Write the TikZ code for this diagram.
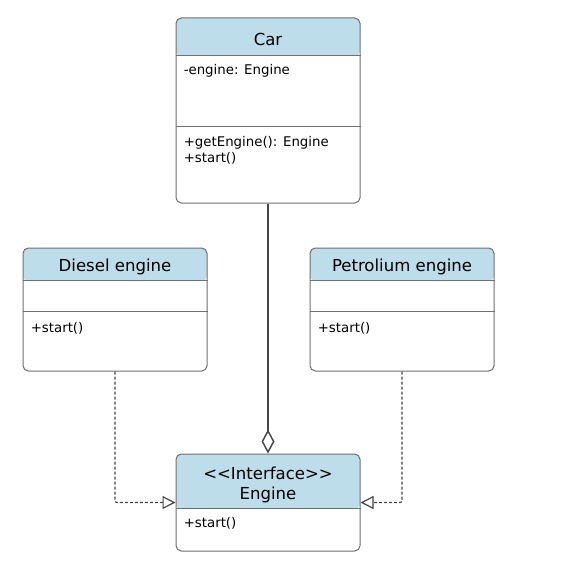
\documentclass[tikz,border=0pt]{standalone}
\usepackage{fontspec}
\setmainfont{DejaVu Sans}
\usetikzlibrary{arrows.meta}
\definecolor{headBlue}{RGB}{188,221,233}
\definecolor{boxGray}{RGB}{112,112,112}
\definecolor{lineGray}{RGB}{70,70,70}
\tikzset{
    classbox/.style={draw=boxGray, line width=0.75pt, fill=white, rounded corners=4pt, minimum width=138pt, inner sep=0pt},
    header/.style={path picture={\fill[headBlue] (path picture bounding box.north west) rectangle ([yshift=-#1]path picture bounding box.north east);}},
    title/.style={font=\fontsize{12.4}{15}\selectfont, inner sep=0pt, anchor=base},
    member/.style={font=\fontsize{10}{12}\selectfont, inner sep=0pt, anchor=base west},
    divline/.style={draw=boxGray, line width=0.75pt},
    realize/.style={draw=lineGray, line width=0.9pt, dash pattern=on 2.25pt off 1.5pt, rounded corners=1.5pt, -{Triangle[open, length=9.75pt, width=9.75pt]}},
    aggreg/.style={draw=lineGray, line width=1.1pt, {Diamond[open, length=18pt, width=9.75pt]}-}
}
\begin{document}
\begin{tikzpicture}[x=0.75pt, y=-0.75pt]
    \fill[white] (0,0) rectangle (580,570);
    \useasboundingbox (0,0) rectangle (580,570);

    %CAR
    \node[classbox, header=28.5pt, minimum height=138.75pt] (car) at (268,110.5) {};
    \draw[divline] ([yshift=-28.5pt]car.north west) -- ([yshift=-28.5pt]car.north east);
    \draw[divline] ([yshift=-82pt]car.north west) -- ([yshift=-82pt]car.north east);
    \node[title] (cartitle) at ([yshift=-21pt]car.north) {Car};
    \node[member] (carattr) at ([xshift=6pt, yshift=-42.75pt]car.north west) {-engine: Engine};
    \node[member] (carget) at ([xshift=6pt, yshift=-96.75pt]car.north west) {+getEngine(): Engine};
    \node[member] (carstart) at ([xshift=6pt, yshift=-108.75pt]car.north west) {+start()};

    %DIESEL ENGINE
    \node[classbox, header=24.75pt, minimum height=92.25pt] (diesel) at (115,309.5) {};
    \draw[divline] ([yshift=-24.75pt]diesel.north west) -- ([yshift=-24.75pt]diesel.north east);
    \draw[divline] ([yshift=-48pt]diesel.north west) -- ([yshift=-48pt]diesel.north east);
    \node[title] (dieseltitle) at ([yshift=-18pt]diesel.north) {Diesel engine};
    \node[member] (dieselstart) at ([xshift=6pt, yshift=-63.75pt]diesel.north west) {+start()};

    %PETROLIUM ENGINE
    \node[classbox, header=24.75pt, minimum height=92.25pt] (petrol) at (402,309.5) {};
    \draw[divline] ([yshift=-24.75pt]petrol.north west) -- ([yshift=-24.75pt]petrol.north east);
    \draw[divline] ([yshift=-48pt]petrol.north west) -- ([yshift=-48pt]petrol.north east);
    \node[title] (petroltitle) at ([yshift=-18pt]petrol.north) {Petrolium engine};
    \node[member] (petrolstart) at ([xshift=6pt, yshift=-63.75pt]petrol.north west) {+start()};

    %ENGINE INTERFACE
    \node[classbox, header=41.25pt, minimum height=72.75pt] (engine) at (268,502.5) {};
    \draw[divline] ([yshift=-41.25pt]engine.north west) -- ([yshift=-41.25pt]engine.north east);
    \node[title] (enginestereo) at ([yshift=-19.5pt]engine.north) {<\kern0pt<Interface>\kern0pt>};
    \node[title] (enginetitle) at ([yshift=-34.5pt]engine.north) {Engine};
    \node[member] (enginestart) at ([xshift=6pt, yshift=-55.5pt]engine.north west) {+start()};

    %CONNECTORS
    \draw[aggreg] (engine.north) -- (car.south);
    \draw[realize] (diesel.south) |- (engine.west);
    \draw[realize] (petrol.south) |- (engine.east);
\end{tikzpicture}
\end{document}
